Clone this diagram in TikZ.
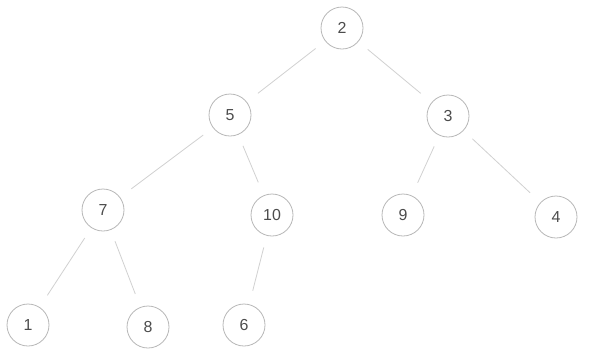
\documentclass[tikz,border=0pt]{standalone}
\usepackage{fontspec}
\setmainfont{Liberation Sans}
\begin{document}
\begin{tikzpicture}[x=1bp,y=-1bp,
  vert/.style={circle,draw=black!28,line width=0.8bp,minimum size=42bp,inner sep=0pt,text=black!70,font=\fontsize{16}{16}\selectfont},
  edge/.style={draw=black!18,line width=0.8bp,shorten >=14bp,shorten <=12bp}]
\useasboundingbox[fill=white] (0,0) rectangle (589,356);
\node[vert] (n2) at (342,28) {2};
\node[vert] (n5) at (230,115) {5};
\node[vert] (n3) at (448,116) {3};
\node[vert] (n7) at (103,210) {7};
\node[vert] (n10) at (272,215) {10};
\node[vert] (n9) at (403,215) {9};
\node[vert] (n4) at (556,217) {4};
\node[vert] (n1) at (28,325) {1};
\node[vert] (n8) at (148,327) {8};
\node[vert] (n6) at (244,325) {6};
\draw[edge] (n2) -- (n5);
\draw[edge] (n2) -- (n3);
\draw[edge] (n5) -- (n7);
\draw[edge] (n5) -- (n10);
\draw[edge] (n3) -- (n9);
\draw[edge] (n3) -- (n4);
\draw[edge] (n7) -- (n1);
\draw[edge] (n7) -- (n8);
\draw[edge] (n10) -- (n6);
\end{tikzpicture}
\end{document}
